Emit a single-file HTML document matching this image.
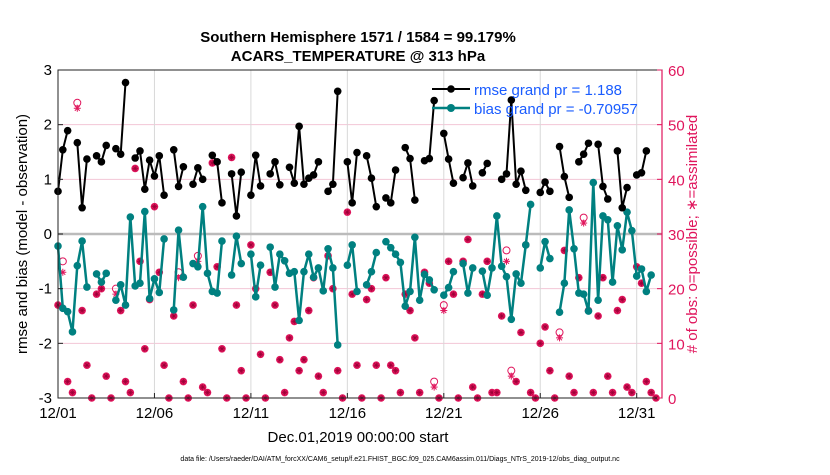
<!DOCTYPE html>
<html><head><meta charset="utf-8"><style>
body{margin:0;background:#fff;width:830px;height:470px;overflow:hidden;font-family:"Liberation Sans",sans-serif}
svg text{font-family:"Liberation Sans",sans-serif}
</style></head><body>
<svg id="chart" width="830" height="470" xmlns="http://www.w3.org/2000/svg">
<rect width="830" height="470" fill="#fff"/>
<g id="grid"></g>
<g id="marks"></g>
<rect x="58" y="70" width="604" height="328" fill="none" stroke="#222" stroke-width="1"/>
<line x1="662" y1="70" x2="662" y2="398" stroke="#e0155c" stroke-width="1.2"/>
<g id="axes"></g>
<text x="358" y="42" text-anchor="middle" font-size="15" font-weight="bold">Southern Hemisphere 1571 / 1584 = 99.179%</text>
<text x="358" y="61" text-anchor="middle" font-size="15" font-weight="bold">ACARS_TEMPERATURE @ 313 hPa</text>
<text transform="translate(27,234) rotate(-90)" text-anchor="middle" font-size="15">rmse and bias (model - observation)</text>
<text transform="translate(697,234) rotate(-90)" text-anchor="middle" font-size="15" fill="#e0155c"># of obs: o=possible; ∗=assimilated</text>
<text x="358" y="442" text-anchor="middle" font-size="15">Dec.01,2019 00:00:00 start</text>
<text x="400" y="461" text-anchor="middle" font-size="7">data file: /Users/raeder/DAI/ATM_forcXX/CAM6_setup/f.e21.FHIST_BGC.f09_025.CAM6assim.011/Diags_NTrS_2019-12/obs_diag_output.nc</text>
<g>
<line x1="432" y1="89" x2="470" y2="89" stroke="#000" stroke-width="2"/><circle cx="451" cy="89" r="3.8" fill="#000"/>
<text x="474" y="95" font-size="15" fill="#1a5cff">rmse grand pr = 1.188</text>
<line x1="432" y1="108" x2="470" y2="108" stroke="#008080" stroke-width="2.5"/><circle cx="451" cy="108" r="4" fill="#008080"/>
<text x="474" y="114" font-size="15" fill="#1a5cff">bias grand pr = -0.70957</text>
</g>
</svg>
<script>
const N=null;
const rmse=[0.78,1.54,1.89,N,1.67,0.48,1.37,N,1.43,1.32,1.62,N,1.56,1.46,2.77,N,1.39,1.52,0.82,1.35,1.06,1.43,0.71,N,1.54,0.87,1.23,N,0.91,1.21,1.00,N,1.44,1.32,0.57,N,1.10,0.33,1.13,N,0.71,1.44,0.88,N,1.10,1.32,0.90,N,1.22,0.93,1.97,0.91,1.02,1.08,1.32,N,0.78,0.91,2.61,N,1.32,0.57,1.49,N,1.43,1.02,0.50,N,0.66,0.57,1.17,N,1.58,1.38,0.62,N,1.34,1.38,2.44,N,1.84,1.37,0.93,N,1.03,1.30,0.88,N,1.12,1.29,N,N,1.00,1.10,2.45,0.91,1.15,0.80,N,N,0.76,0.95,0.78,N,1.60,1.05,0.67,N,1.32,1.46,1.66,N,1.64,0.87,0.64,N,1.52,0.48,0.85,N,1.08,1.12,1.52,N,N];
const bias=[-0.22,-1.36,-1.42,-1.79,-0.58,-0.13,-0.97,N,-0.73,-0.88,-0.72,N,-1.21,-0.93,-1.30,0.31,-0.95,-0.90,0.41,-1.18,-0.82,-1.07,-0.09,N,-1.39,0.07,-0.79,N,-0.54,-0.60,0.50,-0.72,-1.05,-1.08,-0.13,N,-0.75,-0.04,-0.54,N,-0.37,-1.15,-0.57,N,-0.24,-0.97,-0.37,-0.49,-0.72,-0.69,-1.58,-0.69,-0.37,-0.79,-0.62,-1.04,-0.27,-0.62,-2.03,N,-0.57,-0.20,-1.05,N,-0.93,-0.69,-0.34,N,-0.14,-0.25,-0.37,-0.52,-1.32,-1.05,-0.06,-1.21,-0.74,-0.84,-1.02,N,-1.12,-0.98,-0.69,N,-0.54,-1.08,-0.62,N,-0.68,-1.12,-0.62,0.33,-0.59,-0.78,-1.56,-0.73,-0.90,-0.20,0.54,N,-0.62,-0.14,-0.45,N,-1.43,-0.90,0.44,-0.27,-1.08,-1.10,-1.41,0.94,-1.21,0.33,0.26,-0.88,0.15,-0.29,0.40,0.06,-0.77,-0.64,-1.05,-0.75,N];
const assimilated=[17,23,3,1,53,16,6,0,19,20,4,0,19,16,3,1,42,25,9,18,35,23,6,0,15,22,3,0,17,25,2,1,43,24,9,0,44,17,5,0,28,20,8,0,23,17,7,1,11,14,5,7,16,22,4,1,26,20,5,0,34,19,6,0,18,20,6,0,22,6,5,1,19,16,11,1,23,21,2,0,16,25,19,0,25,29,2,0,19,25,1,1,15,25,4,3,12,28,1,0,10,13,5,0,11,27,4,1,22,32,16,1,15,22,4,1,16,18,2,1,24,21,3,1,0];
const possible=[17,25,3,1,54,16,6,0,19,20,4,0,20,16,3,1,42,25,9,18,35,23,6,0,15,23,3,0,17,26,2,1,43,24,9,0,44,17,5,0,28,20,8,0,23,17,7,1,11,14,5,7,16,22,4,1,26,20,5,0,34,19,6,0,18,20,6,0,22,6,5,1,19,16,11,1,23,21,3,0,17,25,19,0,25,29,2,0,19,25,1,1,15,27,5,3,12,28,1,0,10,13,5,0,12,27,4,1,22,33,16,1,15,22,4,1,16,18,2,1,24,21,3,1,0];
const xTickLabels=["12/01","12/06","12/11","12/16","12/21","12/26","12/31"];
const xTickDays=[0,5,10,15,20,25,30];
const yTicks=[3,2,1,0,-1,-2,-3];
const rTicks=[0,10,20,30,40,50,60];

const NS="http://www.w3.org/2000/svg";
const X0=58,DAYPX=19.29;
const xDay=d=>X0+d*DAYPX;
const xIdx=i=>xDay(i/4);
const yL=v=>234-v*54.67;
const yR=n=>398-n*328/60;
function mk(tag,attrs,parent){const e=document.createElementNS(NS,tag);for(const k in attrs)e.setAttribute(k,attrs[k]);parent.appendChild(e);return e;}
const grid=document.getElementById('grid'),marks=document.getElementById('marks'),axes=document.getElementById('axes');

rTicks.forEach(t=>{if(t===0||t===60||t===30)return;
 const l=mk('line',{x1:58,x2:662,y1:yR(t),y2:yR(t),stroke:'#f3c6d6','stroke-width':1},grid);
 
 });
xTickDays.forEach(d=>{if(d===0)return;
 const l=mk('line',{x1:xDay(d),x2:xDay(d),y1:70,y2:398,stroke:'#d8d8d8','stroke-width':1},grid);
 
 });
const z=mk('line',{x1:58,x2:662,y1:yL(0),y2:yL(0),stroke:'#bbb','stroke-width':2.5},grid);



function obsMarker(x,y,kind){
 const g=mk('g',{},marks);
 
 
 if(kind==='o'){mk('circle',{cx:x,cy:y,r:3.5,fill:'none',stroke:'#e0155c','stroke-width':1},g);}
 else{mk('circle',{cx:x,cy:y,r:3.8,fill:'#e0155c',stroke:'none'},g);
  const s=2.8;[[0,s],[s,0],[s*0.7,s*0.7],[s*0.7,-s*0.7]].forEach(([a,b])=>mk('line',{x1:x-a,y1:y-b,x2:x+a,y2:y+b,stroke:'#9a0036','stroke-width':0.7},g));}
}
possible.forEach((n,i)=>{if(n!==assimilated[i])obsMarker(xIdx(i),yR(n),'o');});
assimilated.forEach((n,i)=>{if(n!==possible[i]){const g=mk('g',{},marks);
 
 
 const x=xIdx(i),y=yR(n),s=3.5;[[0,s],[s,0],[s*0.7,s*0.7],[s*0.7,-s*0.7]].forEach(([a,b])=>mk('line',{x1:x-a,y1:y-b,x2:x+a,y2:y+b,stroke:'#e0155c','stroke-width':1},g));}
 else obsMarker(xIdx(i),yR(n),'*');});

function series(vals,color,w,r,name){
 let seg=[];const segs=[];
 vals.forEach((v,i)=>{if(v===null){if(seg.length)segs.push(seg);seg=[];}else seg.push([xIdx(i),yL(v)]);});
 if(seg.length)segs.push(seg);
 segs.forEach(s=>{const p=mk('polyline',{points:s.map(q=>q.join(',')).join(' '),fill:'none',stroke:color,'stroke-width':w,'stroke-linejoin':'round'},marks);
  
  });
 vals.forEach((v,i)=>{if(v===null)return;const c=mk('circle',{cx:xIdx(i),cy:yL(v),r:r,fill:color},marks);
  
  });
}
series(bias,'#008080',2.5,3.8,'bias');
series(rmse,'#000',2,3.8,'rmse');

yTicks.forEach(t=>{const y=yL(t);
 mk('line',{x1:58,x2:63,y1:y,y2:y,stroke:'#222'},axes);
 const tx=mk('text',{x:52,y:y+5,'text-anchor':'end','font-size':15},axes);tx.textContent=t;
 
 });
rTicks.forEach(t=>{const y=yR(t);
 mk('line',{x1:657,x2:662,y1:y,y2:y,stroke:'#e0155c'},axes);
 const tx=mk('text',{x:668,y:y+6,'font-size':15,fill:'#e0155c'},axes);tx.textContent=t;
 
 });
xTickDays.forEach((d,k)=>{const x=xDay(d);
 mk('line',{x1:x,x2:x,y1:398,y2:393,stroke:'#222'},axes);
 const tx=mk('text',{x:x,y:418,'text-anchor':'middle','font-size':15},axes);tx.textContent=xTickLabels[k];
 
 });
</script>
</body></html>
